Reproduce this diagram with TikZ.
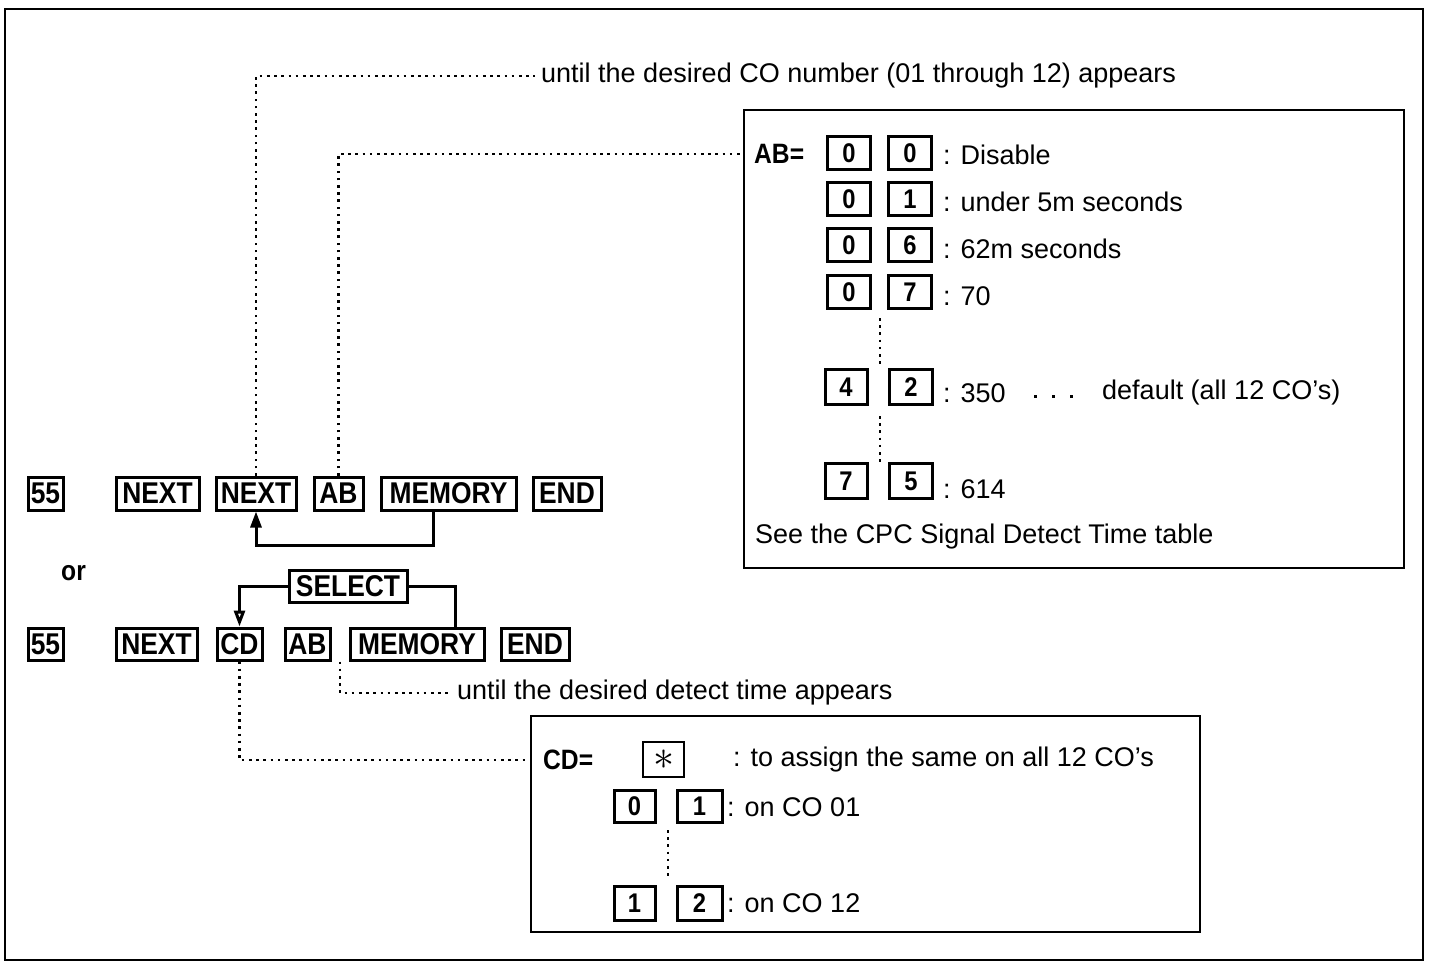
\documentclass[tikz,border=0pt]{standalone}
\usepackage{fontspec}
\setmainfont{Liberation Sans}
\newfontfamily\keyfont[FakeStretch=0.88]{Liberation Sans Bold}
\usetikzlibrary{arrows.meta}
\begin{document}
\begin{tikzpicture}[x=1pt,y=-1pt,
  key/.style={draw,line width=3pt,inner sep=0pt,font=\fontsize{30}{30}\keyfont},
  dig/.style={key,minimum width=43pt,minimum height=33pt,font=\fontsize{27}{27}\keyfont},
  txt/.style={anchor=west,inner sep=0pt,font=\fontsize{27}{30}\selectfont},
  btxt/.style={txt,font=\fontsize{28}{30}\keyfont},
  dots/.style={line width=2.8pt,dash pattern=on 2.6pt off 4.6pt},
  frame/.style={line width=2.6pt},
  conn/.style={line width=3pt}]
\useasboundingbox (0,0) rectangle (1430,962);
\draw[frame] (5,9) rectangle (1423,960);

% row 1
\node[key,minimum width=35pt,minimum height=33pt] (r1a) at (45.5,493.5) {55};
\node[key,minimum width=83pt,minimum height=33pt] (r1b) at (157.5,493.5) {NEXT};
\node[key,minimum width=80pt,minimum height=33pt] (r1c) at (256,493.5) {NEXT};
\node[key,minimum width=49pt,minimum height=33pt] (r1d) at (338.5,493.5) {AB};
\node[key,minimum width=135pt,minimum height=33pt] (r1e) at (448.5,493.5) {MEMORY};
\node[key,minimum width=68pt,minimum height=33pt] (r1f) at (567,493.5) {END};

\node[btxt] (or) at (61,573) {or};

% row 2
\node[key,minimum width=118pt,minimum height=32pt] (sel) at (348,586) {SELECT};
\node[key,minimum width=35pt,minimum height=32pt] (r2a) at (45.5,644) {55};
\node[key,minimum width=81pt,minimum height=32pt] (r2b) at (156.5,644) {NEXT};
\node[key,minimum width=45pt,minimum height=32pt] (r2c) at (239.5,644) {CD};
\node[key,minimum width=45pt,minimum height=32pt] (r2d) at (307.5,644) {AB};
\node[key,minimum width=134pt,minimum height=32pt] (r2e) at (417,644) {MEMORY};
\node[key,minimum width=68pt,minimum height=32pt] (r2f) at (535,644) {END};

% connectors row 1 / row 2
\draw[conn,-{Triangle[length=16pt,width=11pt]}] ([xshift=-15.5pt]r1e.south) -- ++(0,34) -| (r1c.south);
\draw[conn,-{Triangle[open,length=16pt,width=11pt]}] (sel.west) -| (r2c.north);
\draw[conn] (sel.east) -| ([xshift=38pt]r2e.north);

% top texts
\node[txt] (t1) at (541,76) {until the desired CO number (01 through 12) appears};
\node[txt] (t2) at (457,693) {until the desired detect time appears};

% AB panel
\node[draw,frame,minimum width=660pt,minimum height=458pt,inner sep=0pt] (abp) at (1074,339) {};
\node[btxt] (abeq) at (754,154) {AB=};
\node[dig] (a1a) at (849,153) {0};
\node[dig] (a1b) at (910,153) {0};
\node[txt] (a1t) at (943,155) {: Disable};
\node[dig] (a2a) at (849,199) {0};
\node[dig] (a2b) at (910,199) {1};
\node[txt] (a2t) at (943,202) {: under 5m seconds};
\node[dig] (a3a) at (849,245) {0};
\node[dig] (a3b) at (910,245) {6};
\node[txt] (a3t) at (943,249) {: 62m seconds};
\node[dig] (a4a) at (849,292) {0};
\node[dig] (a4b) at (910,292) {7};
\node[txt] (a4t) at (943,296) {: 70};
\node[dig,minimum width=42pt,minimum height=35pt] (a5a) at (846,387) {4};
\node[dig,minimum width=43pt,minimum height=35pt] (a5b) at (911,387) {2};
\node[txt] (a5t) at (943,393) {: 350};
\node[txt] (a5u) at (1102,393) {default (all 12 CO’s)};
\node[dig,minimum width=42pt,minimum height=35pt] (a6a) at (846,481) {7};
\node[dig,minimum width=43pt,minimum height=35pt] (a6b) at (911,481) {5};
\node[txt] (a6t) at (943,489) {: 614};
\node[txt] (see) at (755,537) {See the CPC Signal Detect Time table};
\draw[dots] (880,318) -- (880,367);
\draw[dots] (880,416) -- (880,462);
\draw[line width=3pt,dash pattern=on 3pt off 15pt] (1034,396) -- (1074,396);

% CD panel
\node[draw,frame,minimum width=669pt,minimum height=216pt,inner sep=0pt] (cdp) at (865.5,824) {};
\node[btxt] (cdeq) at (543,760) {CD=};
\node[draw,line width=1.8pt,minimum width=41pt,minimum height=35pt,inner sep=0pt] (star) at (663.5,759.5) {\raisebox{-3pt}{\scalebox{4.2}{$\ast$}}};
\node[txt] (c0t) at (733,760) {: to assign the same on all 12 CO’s};
\node[dig,minimum width=41pt,minimum height=32pt] (c1a) at (634.5,806) {0};
\node[dig,minimum width=45pt,minimum height=32pt] (c1b) at (699.5,806) {1};
\node[txt] (c1t) at (727,807) {: on CO 01};
\node[dig,minimum width=41pt,minimum height=34pt] (c2a) at (634.5,903) {1};
\node[dig,minimum width=45pt,minimum height=34pt] (c2b) at (699.5,903) {2};
\node[txt] (c2t) at (727,903) {: on CO 12};
\draw[dots] (668,830) -- (668,880);

% dotted leaders
\draw[dots] (r1c.north) |- ([xshift=-6pt]t1.west);
\draw[dots] (r1d.north) |- (abp.west |- abeq.west);
\draw[dots] (r2c.south) |- (cdp.west |- cdeq.west);
\draw[dots] ([xshift=32.5pt]r2d.south) |- ([xshift=-5pt]t2.west);
\end{tikzpicture}
\end{document}
